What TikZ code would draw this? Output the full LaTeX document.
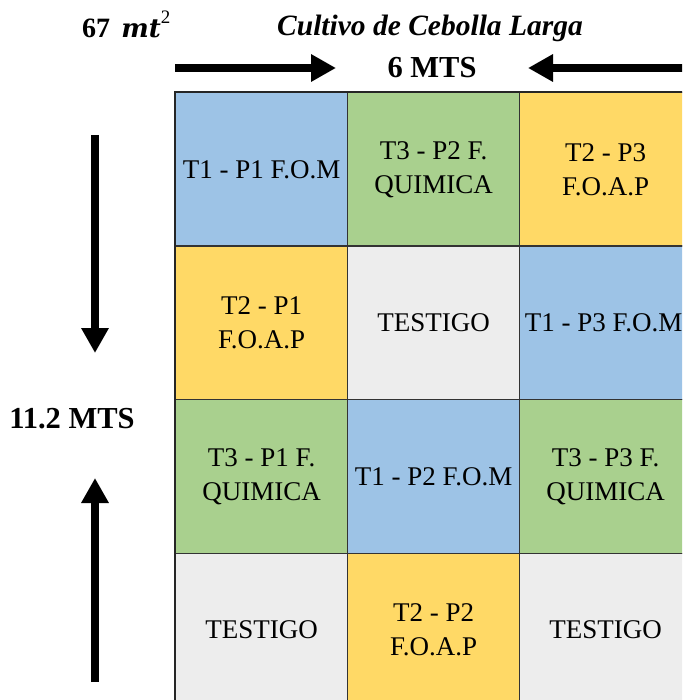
\documentclass[tikz,border=0pt]{standalone}
\usepackage{fontspec}
\setmainfont{Liberation Serif}
\newfontfamily\dejaserif{DejaVu Serif}
\usetikzlibrary{arrows.meta}
\definecolor{cblue}{HTML}{9DC3E6}
\definecolor{cgreen}{HTML}{A9D08E}
\definecolor{cyellow}{HTML}{FFD966}
\definecolor{cgrey}{HTML}{EDEDED}
\begin{document}
\begin{tikzpicture}[x=1pt,y=-1pt,
  cell/.style={draw=black!80, line width=1.3pt, minimum width=172pt, minimum height=153.5pt,
    inner sep=0pt, align=center, font=\fontsize{27}{34}\selectfont, anchor=north west},
  lbl/.style={font=\fontsize{30.5}{34}\selectfont\bfseries, inner sep=0pt},
  bigarrow/.style={line width=8pt, -{Triangle[length=25pt,width=26pt]}}]
\useasboundingbox (0,0) rectangle (682,700);
\clip (0,0) rectangle (682,700);
% labels
\node[lbl, anchor=base west, font=\fontsize{28}{30}\selectfont\bfseries] (area) at (82,38)
  {67\hspace{0.4em}{\dejaserif\bfseries\itshape\fontsize{26}{30}\selectfont mt}\raisebox{0.5em}{\fontsize{19}{22}\selectfont\mdseries 2}};
\node[lbl, font=\fontsize{29.5}{34}\selectfont\bfseries\itshape] (title) at (430,28) {Cultivo de Cebolla Larga};
\node[lbl] (width) at (432,68) {6 MTS};
\node[lbl] (height) at (72,419) {11.2 MTS};
% grid
\node[cell, fill=cblue]   (c11) at (175,92) {T1 - P1 F.O.M};
\node[cell, fill=cgreen]  (c12) at (347,92) {T3 - P2 F.\\QUIMICA};
\node[cell, fill=cyellow] (c13) at (519,92) {T2 - P3\\F.O.A.P};
\node[cell, fill=cyellow] (c21) at (175,245.5) {T2 - P1\\F.O.A.P};
\node[cell, fill=cgrey]   (c22) at (347,245.5) {TESTIGO};
\node[cell, fill=cblue]   (c23) at (519,245.5) {\hspace*{-4pt}T1 - P3 F.O.M};
\node[cell, fill=cgreen]  (c31) at (175,399) {T3 - P1 F.\\QUIMICA};
\node[cell, fill=cblue]   (c32) at (347,399) {T1 - P2 F.O.M};
\node[cell, fill=cgreen]  (c33) at (519,399) {T3 - P3 F.\\QUIMICA};
\node[cell, fill=cgrey]   (c41) at (175,552.5) {TESTIGO};
\node[cell, fill=cyellow] (c42) at (347,552.5) {T2 - P2\\F.O.A.P};
\node[cell, fill=cgrey]   (c43) at (519,552.5) {TESTIGO};
\draw[line width=2pt, black!85] (c11.north west) rectangle (c43.south east);
% arrows
\coordinate (ha1) at (175,68);
\coordinate (ha2) at (336,68);
\coordinate (hb1) at (690,68);
\coordinate (hb2) at (528,68);
\coordinate (va1) at (95,135);
\coordinate (va2) at (95,353);
\coordinate (vb1) at (95,682);
\coordinate (vb2) at (95,478);
\draw[bigarrow] (ha1) -- (ha2);
\draw[bigarrow] (hb1) -- (hb2);
\draw[bigarrow] (va1) -- (va2);
\draw[bigarrow] (vb1) -- (vb2);
\end{tikzpicture}
\end{document}
